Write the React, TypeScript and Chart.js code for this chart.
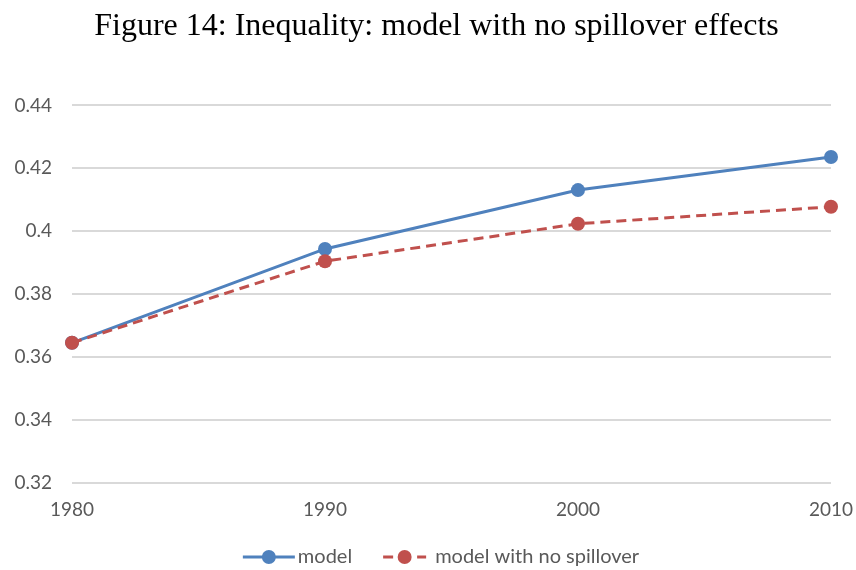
import React, { useEffect, useRef } from "react";
import { Chart, registerables } from "chart.js";

Chart.register(...registerables);

const years = ["1980", "1990", "2000", "2010"];
const modelValues = [0.3646, 0.3944, 0.4131, 0.4236];
const noSpilloverValues = [0.3646, 0.3905, 0.4024, 0.4078];
const seriesNames = ["model", "model with no spillover"];
const titleText = "Figure 14: Inequality: model with no spillover effects";

const BLUE = "#4F81BD";
const RED = "#C0504D";
const FONT = "Lato, 'Open Sans', sans-serif";
const TEXT_GREY = "#595959";

const legendPlugin = {
  id: "lineLegend",
  afterDraw(chart: any) {
    const ctx: CanvasRenderingContext2D = chart.ctx;
    const datasets = chart.data.datasets;
    ctx.save();
    ctx.font = `20px ${FONT}`;
    ctx.textBaseline = "middle";
    const y = chart.height - 13;
    const sampleW = [52, 43];
    const textGap = [3, 9];
    const itemGap = 31;
    const widths = datasets.map((ds: any, i: number) => sampleW[i] + textGap[i] + ctx.measureText(ds.label).width);
    const total = widths.reduce((a: number, b: number) => a + b, 0) + itemGap * (datasets.length - 1);
    const center = (chart.chartArea.left + chart.chartArea.right) / 2 - 10.5;
    let x = center - total / 2;
    datasets.forEach((ds: any, i: number) => {
      const w = sampleW[i];
      ctx.strokeStyle = ds.borderColor;
      ctx.lineWidth = 3;
      if (ds.borderDash) ctx.setLineDash([10, 24]);
      else ctx.setLineDash([]);
      ctx.beginPath();
      ctx.moveTo(x, y);
      ctx.lineTo(x + w, y);
      ctx.stroke();
      ctx.setLineDash([]);
      ctx.fillStyle = ds.backgroundColor;
      ctx.beginPath();
      ctx.arc(x + w / 2, y, 7, 0, Math.PI * 2);
      ctx.fill();
      ctx.fillStyle = TEXT_GREY;
      ctx.textAlign = "left";
      ctx.fillText(ds.label, x + w + textGap[i], y);
      x += widths[i] + itemGap;
    });
    ctx.restore();
  },
};

export default function App() {
  const ref = useRef<HTMLCanvasElement | null>(null);

  useEffect(() => {
    if (!ref.current) return;
    const chart = new Chart(ref.current, {
      type: "line",
      data: {
        labels: years,
        datasets: [
          {
            label: seriesNames[0],
            data: modelValues,
            borderColor: BLUE,
            backgroundColor: BLUE,
            borderWidth: 3,
            pointRadius: 7,
            pointHoverRadius: 7,
            pointBorderWidth: 0,
            tension: 0,
            order: 1,
          },
          {
            label: seriesNames[1],
            data: noSpilloverValues,
            borderColor: RED,
            backgroundColor: RED,
            borderWidth: 3,
            borderDash: [10, 6],
            pointRadius: 7,
            pointHoverRadius: 7,
            pointBorderWidth: 0,
            tension: 0,
            order: 0,
          },
        ],
      },
      options: {
        animation: false,
        responsive: true,
        maintainAspectRatio: false,
        layout: { padding: { left: 0, right: -17, top: 0, bottom: 34 } },
        plugins: {
          title: {
            display: true,
            text: titleText,
            color: "#000",
            font: { family: "'Liberation Serif', 'Times New Roman', serif", size: 32, weight: "normal" },
            padding: { top: 7, bottom: 60 },
          },
          legend: { display: false },
          tooltip: { enabled: false },
        },
        scales: {
          x: {
            type: "category",
            offset: false,
            grid: { display: false, drawTicks: false },
            border: { display: false },
            ticks: { color: TEXT_GREY, font: { family: FONT, size: 19 }, padding: 15, maxRotation: 0 },
            afterFit: (scale: any) => {
              scale.paddingRight = 25;
            },
          },
          y: {
            min: 0.32,
            max: 0.44,
            grid: { color: "#D9D9D9", lineWidth: 2, drawTicks: false },
            border: { display: false },
            ticks: {
              stepSize: 0.02,
              color: TEXT_GREY,
              font: { family: FONT, size: 19 },
              padding: 20,
              callback: (v: any) => String(Math.round(Number(v) * 100) / 100),
            },
            afterFit: (scale: any) => {
              scale.width = 72;
            },
          },
        },
      },
      plugins: [legendPlugin],
    });
    return () => chart.destroy();
  }, []);

  return (
    <div style={{ position: "fixed", left: 0, top: 0, width: 856, height: 570, background: "#fff" }}>
      <canvas ref={ref} />
    </div>
  );
}
